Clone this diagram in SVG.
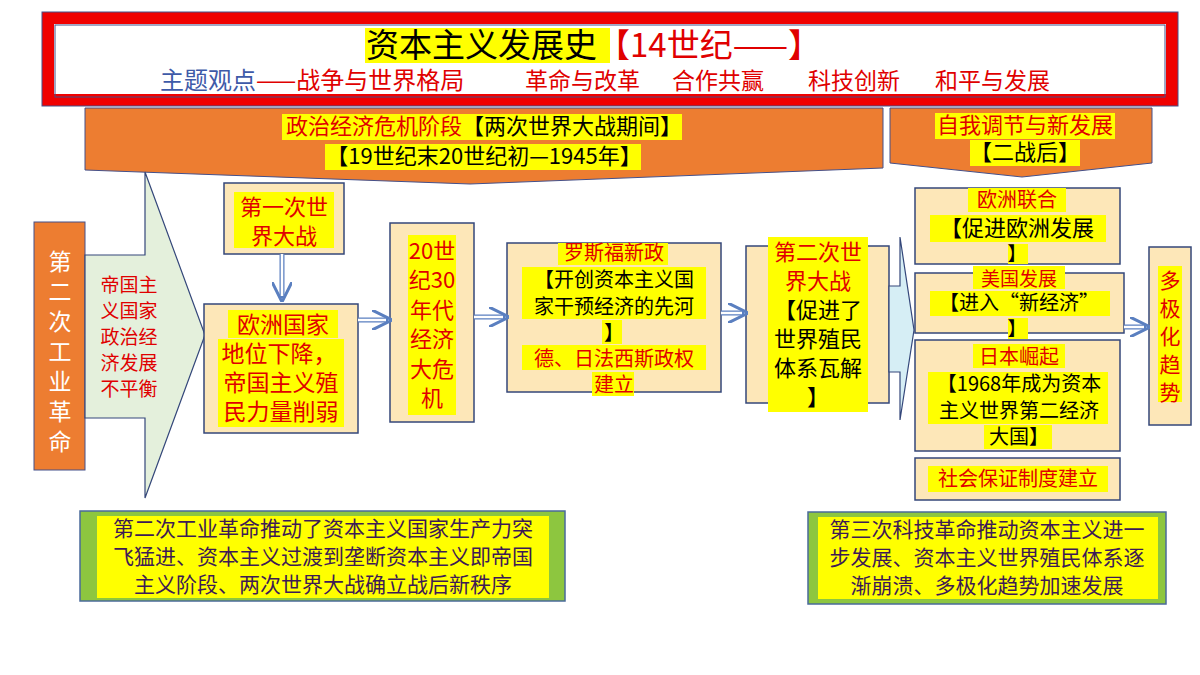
<svg xmlns="http://www.w3.org/2000/svg" width="1200" height="675" viewBox="0 0 1200 675">
<style>
text{font-family:"Noto Sans CJK SC","Noto Sans",sans-serif;text-anchor:middle}
.r{fill:#e00000}.k{fill:#000}.w{fill:#fff}.p{fill:#3d1a55}
.hl{fill:#ffff00}
.box{fill:#fde7b8;stroke:#34477a;stroke-width:1.5}
.grn{fill:#8dc63f;stroke:#4a6a9a;stroke-width:1.5}
.f24{font-size:24px}.f23{font-size:23px}.f20{font-size:20px}.f19{font-size:19px}.f21{font-size:21px}.f22{font-size:22px}
</style>
<defs>
<marker id="ah" viewBox="0 0 10 10" refX="8" refY="5" markerWidth="4" markerHeight="4" orient="auto"><path d="M0,0 L10,5 L0,10" fill="none" stroke="#5a7fc0" stroke-width="1.5"/></marker>
</defs>
<rect width="1200" height="675" fill="#fff"/>
<g id="header">
<rect x="48" y="18" width="1124" height="82" fill="#fff" stroke="#f00000" stroke-width="12"/>
<rect x="55" y="25" width="1110" height="72" fill="none" stroke="#44508a" stroke-width="1"/>
<rect x="42" y="12" width="1136" height="94" fill="none" stroke="#44508a" stroke-width="1"/>
<rect x="365" y="28" width="245" height="35" class="hl"/>
<text x="366" y="57" style="font-size:33px;text-anchor:start" class="k">资本主义发展史<tspan class="r">【14世纪——】</tspan></text>
<text x="160" y="89" style="font-size:24px;text-anchor:start"><tspan fill="#3e5aa8">主题观点</tspan><tspan class="r">——战争与世界格局</tspan></text>
<text x="525" y="89" style="font-size:23px;text-anchor:start" class="r">革命与改革</text>
<text x="672" y="89" style="font-size:23px;text-anchor:start" class="r">合作共赢</text>
<text x="808" y="89" style="font-size:23px;text-anchor:start" class="r">科技创新</text>
<text x="935" y="89" style="font-size:23px;text-anchor:start" class="r">和平与发展</text>
</g>
<g id="stage1">
<polygon points="85,108 883,108 883,168 470,184 85,170" fill="#ed7d31" stroke="#44508a" stroke-width="1"/>
<rect x="282" y="114" width="180" height="26" class="hl"/><rect x="462" y="114" width="220" height="26" class="hl"/>
<text x="484" y="134" class="f22"><tspan class="r">政治经济危机阶段</tspan><tspan class="k">【两次世界大战期间】</tspan></text>
<rect x="325" y="144" width="316" height="26" class="hl"/>
<text x="484" y="164" class="f22 k">【19世纪末20世纪初—1945年】</text>
</g>
<g id="stage2">
<polygon points="890,108 1152,108 1152,163 1022,177 890,163" fill="#ed7d31" stroke="#44508a" stroke-width="1"/>
<rect x="935" y="113" width="180" height="26" class="hl"/>
<text x="1025" y="133" class="f22 r">自我调节与新发展</text>
<rect x="970" y="140" width="110" height="26" class="hl"/>
<text x="1025" y="160" class="f22 k">【二战后】</text>
</g>
<g id="n-revolution">
<rect x="34" y="222" width="51" height="248" fill="#ed7d31" stroke="#44508a" stroke-width="1"/>
<text x="60" y="270" class="f23 w">第</text><text x="60" y="300" class="f23 w">二</text><text x="60" y="330" class="f23 w">次</text><text x="60" y="360" class="f23 w">工</text><text x="60" y="390" class="f23 w">业</text><text x="60" y="420" class="f23 w">革</text><text x="60" y="450" class="f23 w">命</text>
</g>
<g id="n-imbalance">
<polygon points="85,255 145,255 145,172 205,335 145,498 145,418 85,418" fill="#e4f0dc" stroke="#34477a" stroke-width="1.2"/>
<text x="129" y="292" class="f19 r">帝国主</text><text x="129" y="318" class="f19 r">义国家</text><text x="129" y="344" class="f19 r">政治经</text><text x="129" y="370" class="f19 r">济发展</text><text x="129" y="396" class="f19 r">不平衡</text>
</g>
<g id="n-ww1">
<rect x="224" y="183" width="120" height="71" class="box"/>
<rect x="234" y="192" width="100" height="56" class="hl"/>
<text x="284" y="215" class="f22 r">第一次世</text><text x="284" y="244" class="f22 r">界大战</text>
</g>
<g id="n-europe">
<rect x="204" y="304" width="154" height="129" class="box"/>
<rect x="228" y="310" width="110" height="28" class="hl"/><rect x="218" y="339" width="126" height="88" class="hl"/>
<text x="283" y="333" class="f23 r">欧洲国家</text><text x="279" y="362" class="f23 r">地位下降，</text><text x="281" y="391" class="f23 r">帝国主义殖</text><text x="281" y="420" class="f23 r">民力量削弱</text>
</g>
<g id="n-crisis">
<rect x="390" y="223" width="84" height="199" class="box"/>
<rect x="408" y="235" width="48" height="180" class="hl"/>
<text x="432" y="259" class="f22 r">20世</text><text x="432" y="288" class="f22 r">纪30</text><text x="432" y="318" class="f22 r">年代</text><text x="432" y="347" class="f22 r">经济</text><text x="432" y="377" class="f22 r">大危</text><text x="432" y="406" class="f22 r">机</text>
</g>
<g id="n-newdeal">
<rect x="507" y="243" width="214" height="149" class="box"/>
<rect x="558" y="243" width="110" height="22" class="hl"/>
<rect x="522" y="267" width="184" height="52" class="hl"/>
<rect x="602" y="320" width="20" height="24" class="hl"/>
<rect x="522" y="345" width="184" height="25" class="hl"/>
<rect x="592" y="372" width="42" height="24" class="hl"/>
<text x="614" y="260" class="f20 r">罗斯福新政</text>
<text x="614" y="287" class="f20 k">【开创资本主义国</text>
<text x="614" y="314" class="f20 k">家干预经济的先河</text>
<text x="614" y="340" class="f20 k">】</text>
<text x="614" y="366" class="f20 r">德、日法西斯政权</text>
<text x="614" y="392" class="f20 r">建立</text>
</g>
<g id="n-ww2">
<rect x="746" y="246" width="143" height="157" class="box"/>
<rect x="768" y="237" width="100" height="175" class="hl"/>
<text x="818" y="260" class="f22 r">第二次世</text><text x="818" y="289" class="f22 r">界大战</text>
<text x="818" y="318" class="f22 k">【促进了</text><text x="818" y="347" class="f22 k">世界殖民</text><text x="818" y="376" class="f22 k">体系瓦解</text><text x="818" y="405" class="f22 k">】</text>
</g>
<g id="n-postwar-arrow">
<polygon points="889,286 900,286 900,237 914,330 900,420 900,372 889,372" fill="#d6eef5" stroke="#34477a" stroke-width="1.2"/>
</g>
<g id="n-eu">
<rect x="915" y="188" width="205" height="76" class="box"/>
<rect x="968" y="188" width="98" height="24" class="hl"/><rect x="930" y="215" width="176" height="27" class="hl"/><rect x="1008" y="244" width="20" height="20" class="hl"/>
<text x="1017" y="207" class="f20 r">欧洲联合</text><text x="1017" y="236" class="f22 k">【促进欧洲发展</text><text x="1017" y="261" class="f19 k">】</text>
</g>
<g id="n-us">
<rect x="915" y="273" width="209" height="60" class="box"/>
<rect x="973" y="266" width="92" height="23" class="hl"/><rect x="930" y="291" width="180" height="25" class="hl"/><rect x="1008" y="318" width="20" height="21" class="hl"/>
<text x="1019" y="286" class="f19 r">美国发展</text><text x="1019" y="310" class="f20 k">【进入“新经济”</text><text x="1017" y="336" class="f19 k">】</text>
</g>
<g id="n-japan">
<rect x="915" y="340" width="205" height="111" class="box"/>
<rect x="973" y="344" width="92" height="24" class="hl"/><rect x="928" y="372" width="180" height="52" class="hl"/><rect x="984" y="425" width="68" height="24" class="hl"/>
<text x="1019" y="364" class="f20 r">日本崛起</text><text x="1019" y="391" class="f20 k">【1968年成为资本</text><text x="1019" y="418" class="f20 k">主义世界第二经济</text><text x="1019" y="444" class="f20 k">大国】</text>
</g>
<g id="n-social">
<rect x="915" y="458" width="205" height="42" class="box"/>
<rect x="928" y="466" width="180" height="26" class="hl"/>
<text x="1018" y="486" class="f20 r">社会保证制度建立</text>
</g>
<g id="n-multi">
<rect x="1149" y="247" width="42" height="178" class="box"/>
<rect x="1158" y="266" width="24" height="136" class="hl"/>
<text x="1170" y="288" class="f21 r">多</text><text x="1170" y="316" class="f21 r">极</text><text x="1170" y="344" class="f21 r">化</text><text x="1170" y="372" class="f21 r">趋</text><text x="1170" y="400" class="f21 r">势</text>
</g>
<g id="n-sum1">
<rect x="80" y="511" width="485" height="90" class="grn"/>
<rect x="97" y="516" width="452" height="82" class="hl"/>
<text x="323" y="536" class="f21 p">第二次工业革命推动了资本主义国家生产力突</text>
<text x="323" y="564" class="f21 p">飞猛进、资本主义过渡到垄断资本主义即帝国</text>
<text x="323" y="592" class="f21 p">主义阶段、两次世界大战确立战后新秩序</text>
</g>
<g id="n-sum2">
<rect x="808" y="512" width="358" height="92" class="grn"/>
<rect x="818" y="517" width="340" height="82" class="hl"/>
<text x="987" y="537" class="f21 p">第三次科技革命推动资本主义进一</text>
<text x="987" y="565" class="f21 p">步发展、资本主义世界殖民体系逐</text>
<text x="987" y="593" class="f21 p">渐崩溃、多极化趋势加速发展</text>
</g>
<g id="connectors" fill="none" stroke="#5a7fc0" stroke-width="5">
<g>
<path d="M282,254 V298" marker-end="url(#ah)"/>
<path d="M358,320 H388" marker-end="url(#ah)"/>
<path d="M474,317 H505" marker-end="url(#ah)"/>
<path d="M721,313 H744" marker-end="url(#ah)"/>
<path d="M1124,327 H1146" marker-end="url(#ah)"/>
</g>
<g stroke="#fff" stroke-width="2.5">
<path d="M282,254 V296"/><path d="M358,320 H386"/><path d="M474,317 H503"/><path d="M721,313 H742"/><path d="M1124,327 H1144"/>
</g>
</g>
</svg>
